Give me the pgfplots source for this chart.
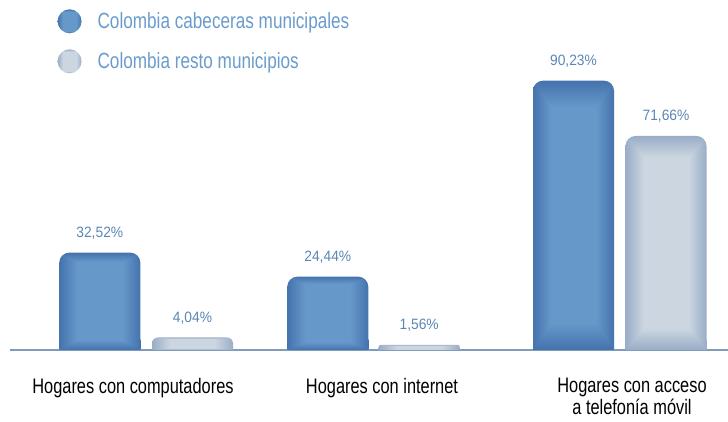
\documentclass[border=0pt]{standalone}
\usepackage{fontspec}
\setmainfont{Liberation Sans}[FakeStretch=0.78]
\newfontfamily\valfont{Liberation Sans}[FakeStretch=0.92]
\usepackage{pgfplots}
\pgfplotsset{compat=1.18}
\definecolor{axisline}{HTML}{7F9DBA}
\definecolor{valtext}{HTML}{5A86B6}
\definecolor{legtext}{HTML}{6A9BCD}
\pgfdeclarefunctionalshading{darkbar}{\pgfpoint{0bp}{0bp}}{\pgfpoint{100bp}{100bp}}{}{
  50 sub abs 25 div exch 50 sub abs 25 div
  0.55 sub 2.22 mul dup 0 lt {pop 0} if dup 1 gt {pop 1} if
  exch 0.80 sub 5.0 mul dup 0 lt {pop 0} if dup 1 gt {pop 1} if
  2 copy lt {exch} if pop
  dup dup -0.13 mul 0.40 add 3 1 roll -0.15 mul 0.60 add exch -0.11 mul 0.79 add
}
\pgfdeclarefunctionalshading{lightbar}{\pgfpoint{0bp}{0bp}}{\pgfpoint{100bp}{100bp}}{}{
  50 sub abs 25 div exch 50 sub abs 25 div
  0.55 sub 2.22 mul dup 0 lt {pop 0} if dup 1 gt {pop 1} if
  exch 0.80 sub 5.0 mul dup 0 lt {pop 0} if dup 1 gt {pop 1} if
  2 copy lt {exch} if pop
  dup dup -0.20 mul 0.80 add 3 1 roll -0.16 mul 0.84 add exch -0.10 mul 0.88 add
}
\pgfplotsset{
  dbar/.style={ybar, bar width=81, draw=none, shading=darkbar},
  lbar/.style={ybar, bar width=81, draw=none, shading=lightbar},
  vals/.style={nodes near coords={\pgfmathprintnumber{\pgfplotspointmeta}\%},
    every node near coord/.append style={text=valtext, font=\valfont\fontsize{15}{18}\selectfont, yshift=10pt}},
}
\begin{document}
\begin{tikzpicture}
\useasboundingbox (0,0) rectangle (728pt,421pt);
\begin{axis}[
  at={(10pt,71.5pt)}, anchor=south west,
  scale only axis, width=718pt, height=349.5pt,
  xmin=10, xmax=728, ymin=0, ymax=117.3,
  axis x line*=bottom, axis y line=none,
  x axis line style={-, color=axisline, line width=2pt},
  major tick length=0pt,
  xtick={133,382,632},
  xticklabels={Hogares con computadores, Hogares con internet, {Hogares con acceso\\a telefonía móvil}},
  xticklabel style={yshift=-25pt, align=center, text=black, font=\fontsize{21}{22.5}\selectfont, anchor=north},
  ytick=\empty,
  clip=false,
  /pgf/number format/assume math mode=true,
  /pgf/number format/.cd, use comma, fixed, fixed zerofill, precision=2, /pgfplots/.cd,
  legend style={at={(0.066,0.974)}, anchor=north west, draw=none, fill=none, inner sep=0pt,
    font=\fontsize{22}{26}\selectfont, text=legtext, row sep=16pt,
    /tikz/every odd column/.append style={column sep=14pt}},
  legend cell align=left,
]
\addplot[dbar, vals, rounded corners=10pt,
  legend image code/.code={\shade[shading=darkbar] (12pt,0pt) circle (12pt);}]
  coordinates {(99.8,32.52)};
\addlegendentry{Colombia cabeceras municipales}
\addplot[lbar, vals, rounded corners=6pt,
  legend image code/.code={\shade[shading=lightbar] (12pt,0pt) circle (12pt);}]
  coordinates {(192.5,4.04)};
\addlegendentry{Colombia resto municipios}
\addplot[forget plot, dbar, vals, rounded corners=10pt] coordinates {(327.8,24.44)};
\addplot[forget plot, dbar, vals, rounded corners=10pt] coordinates {(573.5,90.23)};
\addplot[forget plot, lbar, vals, rounded corners=2pt] coordinates {(419.2,1.56)};
\addplot[forget plot, lbar, vals, rounded corners=10pt] coordinates {(666,71.66)};
\begin{scope}\clip (axis cs:50,0) rectangle (axis cs:150,3.4);
\addplot[forget plot, dbar] coordinates {(99.8,32.52)};\end{scope}
\begin{scope}\clip (axis cs:278,0) rectangle (axis cs:377,3.4);
\addplot[forget plot, dbar] coordinates {(327.8,24.44)};\end{scope}
\begin{scope}\clip (axis cs:524,0) rectangle (axis cs:622,3.4);
\addplot[forget plot, dbar] coordinates {(573.5,90.23)};\end{scope}
\begin{scope}\clip (axis cs:145,0) rectangle (axis cs:240,2.05);
\addplot[forget plot, lbar] coordinates {(192.5,4.04)};\end{scope}
\begin{scope}\clip (axis cs:372,0) rectangle (axis cs:466,0.7);
\addplot[forget plot, lbar] coordinates {(419.2,1.56)};\end{scope}
\begin{scope}\clip (axis cs:620,0) rectangle (axis cs:712,3.4);
\addplot[forget plot, lbar] coordinates {(666,71.66)};\end{scope}
\end{axis}
\end{tikzpicture}
\end{document}
